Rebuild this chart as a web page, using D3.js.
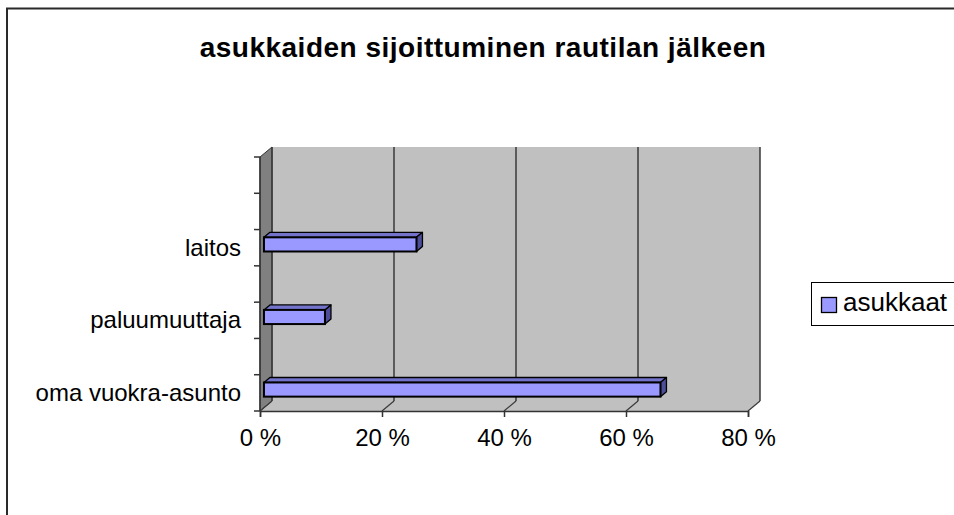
<!DOCTYPE html>
<html>
<head>
<meta charset="utf-8">
<script src="https://cdn.jsdelivr.net/npm/d3@7"></script>
<style>
  body { margin: 0; background: #fff; }
  text { font-family: "Liberation Sans", Arial, sans-serif; fill: #000; }
</style>
</head>
<body>
<svg id="chart" width="954" height="515"></svg>
<script>
  // Category rows from bottom to top (Excel sheet had blank rows between)
  const categories = ["oma vuokra-asunto", "", "paluumuuttaja", "", "laitos", "", ""];
  const values = [65, null, 10, null, 25, null, null];   // asukkaat, %
  const xTicks = [0, 20, 40, 60, 80];
  const seriesName = "asukkaat";
  const chartTitle = "asukkaiden sijoittuminen rautilan jälkeen";

  const svg = d3.select("#chart");

  // 3D depth offset of the plot box
  const DX = 12, DY = -10;
  const plotL = 260, plotR = 748, plotT = 157, plotB = 411;

  const x = d3.scaleLinear().domain([0, 80]).range([plotL, plotR]);
  const y = d3.scaleBand()
    .domain(d3.range(categories.length))
    .range([plotB, plotT]);

  // Outer chart frame (cut off on right and bottom)
  svg.append("rect")
    .attr("x", 7).attr("y", 8.5)
    .attr("width", 1000).attr("height", 600)
    .attr("fill", "#fff")
    .attr("stroke", "#2a2a2a")
    .attr("stroke-width", 2);

  // Title
  svg.append("text")
    .attr("x", 483).attr("y", 57)
    .attr("text-anchor", "middle")
    .style("font-size", "28px")
    .style("font-weight", "bold")
    .style("letter-spacing", "0.5px")
    .text(chartTitle);

  // Back wall
  svg.append("polygon")
    .attr("points", [[plotL + DX, plotT + DY], [plotR + DX, plotT + DY], [plotR + DX, plotB + DY], [plotL + DX, plotB + DY]].join(" "))
    .attr("fill", "#c0c0c0");

  // Floor
  svg.append("polygon")
    .attr("points", [[plotL, plotB], [plotR, plotB], [plotR + DX, plotB + DY], [plotL + DX, plotB + DY]].join(" "))
    .attr("fill", "#c0c0c0");

  // Side wall
  svg.append("polygon")
    .attr("points", [[plotL, plotT], [plotL + DX, plotT + DY], [plotL + DX, plotB + DY], [plotL, plotB]].join(" "))
    .attr("fill", "#808080")
    .attr("stroke", "#333")
    .attr("stroke-width", 1);

  // Gridlines on back wall + diagonals on floor
  const grid = svg.append("g");
  grid.selectAll(".gl")
    .data(xTicks)
    .enter().append("line")
    .attr("x1", d => x(d) + DX).attr("x2", d => x(d) + DX)
    .attr("y1", plotT + DY).attr("y2", plotB + DY)
    .attr("stroke", "#3a3a3a").attr("stroke-width", 1.5);
  grid.selectAll(".fl")
    .data(xTicks)
    .enter().append("line")
    .attr("x1", d => x(d)).attr("x2", d => x(d) + DX)
    .attr("y1", plotB).attr("y2", plotB + DY)
    .attr("stroke", "#3a3a3a").attr("stroke-width", 1.2);

  // X axis
  const xAxis = svg.append("g")
    .attr("transform", `translate(0,${plotB})`)
    .call(d3.axisBottom(x)
      .tickValues(xTicks)
      .tickSize(6)
      .tickPadding(12)
      .tickFormat(d => d + " %"));
  xAxis.attr("font-family", null).attr("font-size", null);
  xAxis.select(".domain").attr("stroke", "#333").attr("stroke-width", 1.5);
  xAxis.selectAll(".tick line").attr("stroke", "#333").attr("stroke-width", 1.5);
  xAxis.selectAll("text").style("font-size", "24px");

  // Y axis: line on front edge of side wall, ticks at band edges
  svg.append("line")
    .attr("x1", plotL).attr("x2", plotL)
    .attr("y1", plotT).attr("y2", plotB)
    .attr("stroke", "#333").attr("stroke-width", 1.5);
  const edges = d3.range(categories.length + 1).map(i => plotB - i * y.step());
  svg.selectAll(".ytick")
    .data(edges)
    .enter().append("line")
    .attr("x1", plotL - 6).attr("x2", plotL)
    .attr("y1", d => d).attr("y2", d => d)
    .attr("stroke", "#333").attr("stroke-width", 1.5);

  svg.selectAll(".ylab")
    .data(categories.map((c, i) => ({ c, i })).filter(d => d.c))
    .enter().append("text")
    .attr("x", 241)
    .attr("y", d => y(d.i) + y.bandwidth() / 2 + 8)
    .attr("text-anchor", "end")
    .style("font-size", "24px")
    .text(d => d.c);

  // 3D bars
  const d0 = 0.33, d1 = 0.83;
  const barH = y.bandwidth() * 0.39;
  const bars = values.map((v, i) => ({ v, i })).filter(d => d.v != null);
  const bg = svg.append("g");
  bars.forEach(d => {
    const cy = y(d.i) + y.bandwidth() / 2;
    const xl = x(0), xr = x(d.v);
    const yt = cy - barH / 2, yb = cy + barH / 2;
    const p = (px, py, k) => [px + k * DX, py + k * DY];
    // top face
    bg.append("polygon")
      .attr("points", [p(xl, yt, d0), p(xr, yt, d0), p(xr, yt, d1), p(xl, yt, d1)].join(" "))
      .attr("fill", "#7373cc").attr("stroke", "#000").attr("stroke-width", 1.3)
      .attr("stroke-linejoin", "round");
    // side face
    bg.append("polygon")
      .attr("points", [p(xr, yt, d0), p(xr, yt, d1), p(xr, yb, d1), p(xr, yb, d0)].join(" "))
      .attr("fill", "#4d4d99").attr("stroke", "#000").attr("stroke-width", 1.3)
      .attr("stroke-linejoin", "round");
    // front face
    const f = p(xl, yt, d0);
    bg.append("rect")
      .attr("x", f[0]).attr("y", f[1])
      .attr("width", xr - xl).attr("height", barH)
      .attr("fill", "#9999ff").attr("stroke", "#000").attr("stroke-width", 2);
  });

  // Legend (cut off at right edge like the original)
  const lg = svg.append("g");
  lg.append("rect")
    .attr("x", 811.5).attr("y", 282.5)
    .attr("width", 200).attr("height", 43)
    .attr("fill", "#fff").attr("stroke", "#000").attr("stroke-width", 1);
  lg.append("rect")
    .attr("x", 821.5).attr("y", 297.5)
    .attr("width", 15).attr("height", 15)
    .attr("fill", "#9999ff").attr("stroke", "#000").attr("stroke-width", 1.3);
  lg.append("text")
    .attr("x", 843).attr("y", 311)
    .style("font-size", "26px")
    .text(seriesName);
</script>
</body>
</html>
